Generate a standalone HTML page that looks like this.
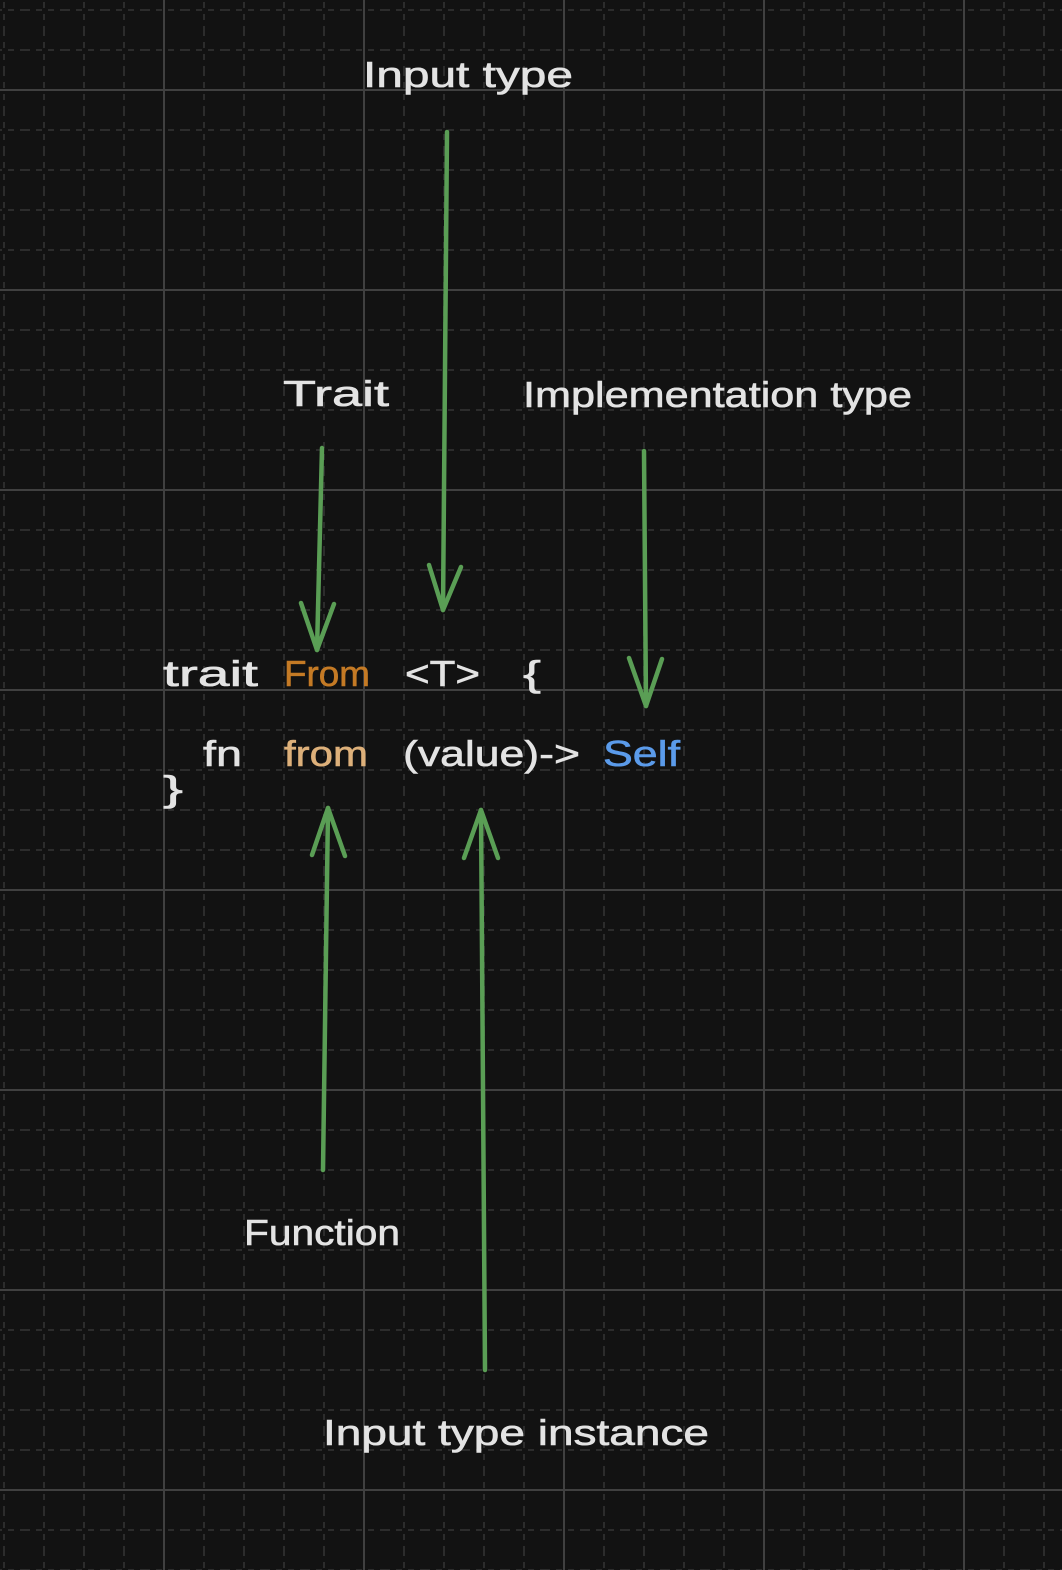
<!DOCTYPE html>
<html><head><meta charset="utf-8"><style>
html,body{margin:0;padding:0;background:#121212;}
svg{display:block;}
text{font-family:"Liberation Sans",sans-serif;fill:#e3e3e3;}
</style></head><body>
<svg width="1062" height="1570" viewBox="0 0 1062 1570" xmlns="http://www.w3.org/2000/svg">
<defs>
<pattern id="minor" x="-16" y="-10" width="40" height="40" patternUnits="userSpaceOnUse">
<line x1="0" y1="20" x2="40" y2="20" stroke="#2c2c2c" stroke-width="2" stroke-dasharray="6 6"/>
<line x1="20" y1="0" x2="20" y2="40" stroke="#2c2c2c" stroke-width="2" stroke-dasharray="6 6"/>
</pattern>
<pattern id="major" x="64" y="-10" width="200" height="200" patternUnits="userSpaceOnUse">
<line x1="0" y1="100" x2="200" y2="100" stroke="#404040" stroke-width="2"/>
<line x1="100" y1="0" x2="100" y2="200" stroke="#404040" stroke-width="2"/>
</pattern>
</defs>
<rect width="1062" height="1570" fill="#121212"/>
<rect width="1062" height="1570" fill="url(#minor)"/>
<rect width="1062" height="1570" fill="url(#major)"/>

<g stroke="#5a9e55" stroke-width="4.5" fill="none" stroke-linecap="round" stroke-linejoin="round">
<path d="M447 132 L443 610"/><path d="M429 565 L443 610 L461 567"/>
<path d="M322 448 L317 650"/><path d="M301 603 L317 650 L334 604"/>
<path d="M644 451 L646 706"/><path d="M629 658 L646 706 L662 659"/>
<path d="M323 1170 L328 808"/><path d="M312 855 L328 808 L345 856"/>
<path d="M485 1370 L481 810"/><path d="M464 858 L481 810 L498 858"/>
</g>

<g font-size="36" stroke="#e3e3e3" stroke-width="0.6">
<text x="363" y="87" textLength="210" lengthAdjust="spacingAndGlyphs">Input type</text>
<text x="283" y="406" textLength="106" lengthAdjust="spacingAndGlyphs">Trait</text>
<text x="523" y="407" textLength="389" lengthAdjust="spacingAndGlyphs">Implementation type</text>
<text x="244" y="1245" textLength="156" lengthAdjust="spacingAndGlyphs">Function</text>
<text x="323" y="1445" textLength="386" lengthAdjust="spacingAndGlyphs">Input type instance</text>
</g>

<g font-size="36" stroke-width="0.6">
<text x="163" y="686" textLength="95" lengthAdjust="spacingAndGlyphs" stroke="#e3e3e3">trait</text>
<text x="284" y="686" textLength="86" lengthAdjust="spacingAndGlyphs" style="fill:#c47a25" stroke="#c47a25">From</text>
<text x="405" y="686" textLength="75" lengthAdjust="spacingAndGlyphs" stroke="#e3e3e3">&lt;T&gt;</text>
<text x="523" y="686" textLength="18" lengthAdjust="spacingAndGlyphs" stroke="#e3e3e3">{</text>
<text x="203" y="766" textLength="39" lengthAdjust="spacingAndGlyphs" stroke="#e3e3e3">fn</text>
<text x="284" y="766" textLength="84" lengthAdjust="spacingAndGlyphs" style="fill:#ddb07a" stroke="#ddb07a">from</text>
<text x="403" y="766" textLength="177" lengthAdjust="spacingAndGlyphs" stroke="#e3e3e3">(value)-&gt;</text>
<text x="603" y="766" textLength="77" lengthAdjust="spacingAndGlyphs" style="fill:#5b9bea" stroke="#5b9bea">Self</text>
<text x="163" y="801" textLength="20" lengthAdjust="spacingAndGlyphs" stroke="#e3e3e3">}</text>
</g>
</svg>
</body></html>
